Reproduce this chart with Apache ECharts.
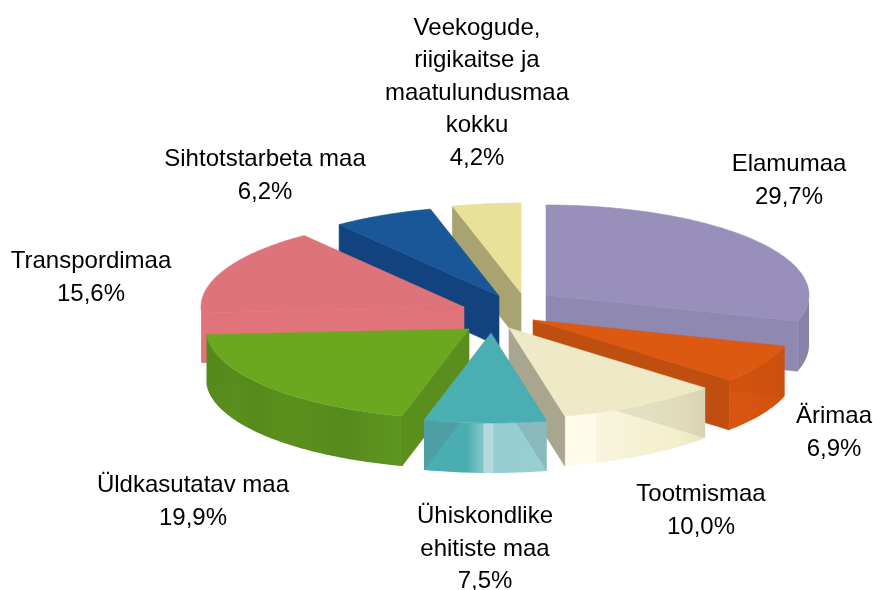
<!DOCTYPE html>
<html>
<head>
<meta charset="utf-8">
<style>
	html, body { margin: 0; padding: 0; background: #fff; }
	#chart { width: 873px; height: 590px; }
</style>
<script src="https://cdn.jsdelivr.net/npm/echarts@6/dist/echarts.min.js"></script>
</head>
<body>
<div id="chart"></div>
<script>
	const categories = ['Elamumaa', 'Ärimaa', 'Tootmismaa', 'Ühiskondlike\nehitiste maa', 'Üldkasutatav maa',
		'Transpordimaa', 'Sihtotstarbeta maa', 'Veekogude,\nriigikaitse ja\nmaatulundusmaa\nkokku']
	const shares = [29.7, 6.9, 10.0, 7.5, 19.9, 15.6, 6.2, 4.2]

	// pie geometry
	const rx = 263, ry = 90, depth = 50
	const center = [505, 312]
	// how far each slice is pulled out of the pie
	const explode = [[41, -17], [28, 8], [4, 16], [-14, 21], [-36, 17], [-41, -5], [-6, -16], [16, -19]]
	// back slices first
	const drawOrder = [7, 6, 5, 0, 1, 4, 2, 3]
	const labelPos = [[789, 181], [834, 433], [701, 511], [485, 549], [193, 502], [91, 278], [265, 176], [477, 93]]

	const topColors = ['#9890ba', '#dd5810', '#eee9c6', '#4aaeb2', '#6ba71f', '#df737a', '#1a5799', '#e9e198']
	const wallColors = ['#8f88b0', '#bf4f10', '#a9a690', '#45a5a9', '#5a8f1d', '#e1747b', '#12437f', '#a8a370']
	const hiddenWall = ['rgba(0,0,0,0)', 'rgba(190,70,10,0.2)', 'rgba(110,110,100,0.14)', 'rgba(90,110,120,0.22)',
		'rgba(70,110,20,0.06)', 'rgba(0,0,0,0)', 'rgba(0,0,0,0)', 'rgba(0,0,0,0)']
	const rimStops = [
		[[0, '#8a84ab'], [1, '#8781a8']],
		[[0, '#d95610'], [1, '#cf5210']],
		[[0, '#fffde9'], [0.22, '#fffde9'], [0.23, '#f8f5de'], [0.8, '#f3eecb'], [1, '#e8e3c0']],
		[[0, '#4aaeb1'], [0.35, '#4aaeb1'], [0.48, '#84c6c9'], [0.49, '#b3dbdd'], [0.56, '#b3dbdd'], [0.57, '#96cdd0'], [1, '#98cfd2']],
		[[0, '#578a1c'], [0.15, '#5a8e1d'], [0.25, '#578a1c'], [0.4, '#5b901e'], [0.55, '#598d1d'], [0.7, '#578a1c'], [0.85, '#5b901e'], [1, '#5e971f']],
		[[0, '#e1747b'], [1, '#e1747b']],
		[[0, '#12437f'], [1, '#12437f']],
		[[0, '#a8a370'], [1, '#a8a370']]
	]

	const total = shares.reduce((a, b) => a + b, 0)
	const rad = (v) => v / total * Math.PI * 2

	function rimPoint(apex, a, dy) {
		return [apex[0] + rx * Math.sin(a), apex[1] - ry * Math.cos(a) + dy]
	}

	function arcPoints(apex, a0, a1, dy) {
		let pts = []
		let n = Math.max(2, Math.ceil((a1 - a0) * 60))
		for (let i = 0; i <= n; i++) {
			pts.push(rimPoint(apex, a0 + (a1 - a0) * i / n, dy))
		}
		return pts
	}

	function radialWall(apex, a) {
		return [apex, rimPoint(apex, a, 0), rimPoint(apex, a, depth), [apex[0], apex[1] + depth]]
	}

	function renderSlice(params, api) {
		let i = params.dataIndex
		let a0 = rad(shares.slice(0, i).reduce((a, b) => a + b, 0))
		let a1 = a0 + rad(api.value(0))
		let apex = [center[0] + explode[i][0], center[1] + explode[i][1]]
		let base = drawOrder.indexOf(i) * 10
		let children = []

		let addPolygon = (points, fill, z, seam) => {
			children.push({
				type: 'polygon',
				shape: { points: points },
				style: { fill: fill, stroke: seam || null, lineWidth: seam ? 0.6 : 0 },
				z2: base + z
			})
		}

		// outer wall, only the part that faces the viewer
		let from = Math.max(a0, Math.PI / 2)
		let to = Math.min(a1, Math.PI * 1.5)
		if (to > from) {
			let fill = new echarts.graphic.LinearGradient(0, 0, 1, 0, rimStops[i].map((s) => ({ offset: s[0], color: s[1] })))
			addPolygon(arcPoints(apex, from, to, 0).concat(arcPoints(apex, from, to, depth).reverse()), fill, 1)
		}

		// the walls behind show faintly through the glossy rim
		if (a0 < Math.PI) {
			addPolygon(radialWall(apex, a0), hiddenWall[i], 2)
		}
		if (a1 > Math.PI) {
			addPolygon(radialWall(apex, a1), hiddenWall[i], 2)
		}

		// cut faces turned to the viewer
		if (a1 <= Math.PI) {
			addPolygon(radialWall(apex, a1), wallColors[i], 3, wallColors[i])
		}
		if (a0 >= Math.PI) {
			addPolygon(radialWall(apex, a0), wallColors[i], 3, wallColors[i])
		}

		// top face
		addPolygon([apex].concat(arcPoints(apex, a0, a1, 0)), topColors[i], 5, topColors[i])

		// label
		children.push({
			type: 'text',
			x: labelPos[i][0],
			y: labelPos[i][1],
			z2: 500,
			style: {
				text: categories[i] + '\n' + api.value(0).toFixed(1).replace('.', ',') + '%',
				align: 'center',
				verticalAlign: 'middle',
				fontFamily: 'Liberation Sans',
				fontSize: 24,
				lineHeight: 32.5,
				fill: '#000'
			}
		})
		return { type: 'group', children: children }
	}

	let chart = echarts.init(document.getElementById('chart'), null, { renderer: 'canvas' })
	chart.setOption({
		animation: false,
		backgroundColor: '#fff',
		series: [{
			type: 'custom',
			coordinateSystem: 'none',
			silent: true,
			renderItem: renderSlice,
			data: shares.map((v, i) => ({ name: categories[i], value: [v] }))
		}]
	})
</script>
</body>
</html>
